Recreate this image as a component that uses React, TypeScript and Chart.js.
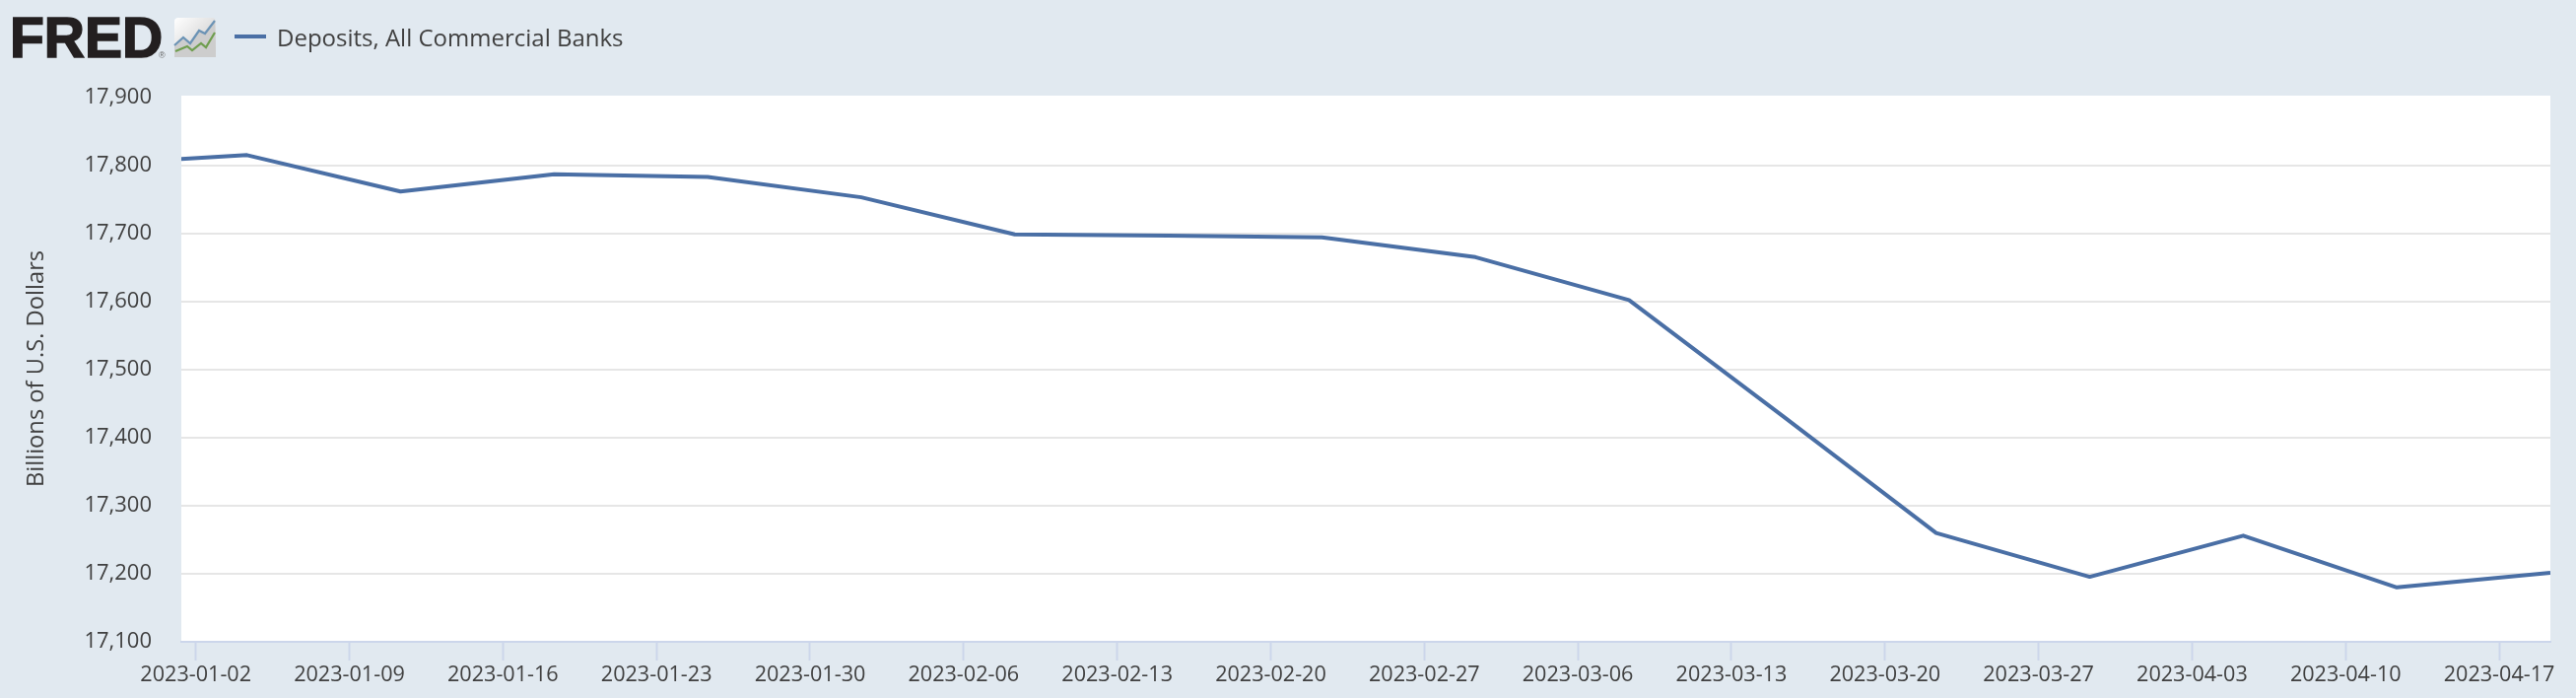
import React, { useEffect, useRef } from "react";
import { Chart, registerables } from "chart.js";

Chart.register(...registerables);

const pointDates = [
  "2022-12-28", "2023-01-04", "2023-01-11", "2023-01-18", "2023-01-25", "2023-02-01",
  "2023-02-08", "2023-02-15", "2023-02-22", "2023-03-01", "2023-03-08", "2023-03-15",
  "2023-03-22", "2023-03-29", "2023-04-05", "2023-04-12", "2023-04-19",
];
const deposits = [
  17802, 17815.5, 17762, 17787.5, 17783.5, 17753.5, 17699, 17697, 17694.5, 17665.5,
  17602.5, 17432, 17260, 17195.5, 17256, 17180, 17201.5,
];
const xTickDates = [
  "2023-01-02", "2023-01-09", "2023-01-16", "2023-01-23", "2023-01-30", "2023-02-06",
  "2023-02-13", "2023-02-20", "2023-02-27", "2023-03-06", "2023-03-13", "2023-03-20",
  "2023-03-27", "2023-04-03", "2023-04-10", "2023-04-17",
];
const yTicks = [17100, 17200, 17300, 17400, 17500, 17600, 17700, 17800, 17900];
const seriesName = "Deposits, All Commercial Banks";
const yTitle = "Billions of U.S. Dollars";

const HOUR = 3600000;
const DAY = 24 * HOUR;
const stamp = (d: string) => Date.parse(d + "T00:00:00Z");
const POINT_OFFSET = 8 * HOUR;

const BG = "#e1e9f0";
const TEXT = "#404040";
const LINE = "#4a6fa5";
const FONT = "'Open Sans', sans-serif";

const plotBackground = {
  id: "plotBackground",
  beforeDraw(chart: any) {
    const { ctx, chartArea: a } = chart;
    ctx.save();
    ctx.fillStyle = "#ffffff";
    ctx.fillRect(a.left, a.top, a.right - a.left, a.bottom - a.top);
    ctx.restore();
  },
};

export default function App() {
  const ref = useRef<HTMLCanvasElement>(null);
  useEffect(() => {
    const chart = new Chart(ref.current as HTMLCanvasElement, {
      type: "line",
      plugins: [plotBackground],
      data: {
        datasets: [
          {
            label: seriesName,
            data: pointDates.map((d, i) => ({ x: stamp(d) + POINT_OFFSET, y: deposits[i] })),
            borderColor: LINE,
            borderWidth: 4,
            tension: 0,
            pointRadius: 0,
            borderJoinStyle: "round",
            clip: 0,
          } as any,
        ],
      },
      options: {
        animation: false,
        responsive: false,
        devicePixelRatio: 1,
        layout: { padding: { top: 97, right: 26, left: 0, bottom: 0 } },
        plugins: { legend: { display: false }, tooltip: { enabled: false } },
        scales: {
          x: {
            type: "linear",
            min: stamp(xTickDates[0]) - 0.66 * DAY,
            max: stamp(pointDates[pointDates.length - 1]) + POINT_OFFSET,
            afterBuildTicks: (s: any) => {
              s.ticks = xTickDates.map((d) => ({ value: stamp(d) }));
            },
            afterFit: (s: any) => {
              s.height = 57;
            },
            grid: { drawOnChartArea: false, tickColor: "#ccd6eb", tickLength: 19, tickWidth: 2 },
            border: { color: "#ccd6eb", width: 2 },
            ticks: {
              autoSkip: false,
              maxRotation: 0,
              minRotation: 0,
              padding: 2,
              color: TEXT,
              font: { family: FONT, size: 21.6 },
              callback: (v: any) => new Date(v).toISOString().slice(0, 10),
            },
          },
          y: {
            type: "linear",
            min: yTicks[0],
            max: 17903,
            afterBuildTicks: (s: any) => {
              s.ticks = yTicks.map((value) => ({ value }));
            },
            afterFit: (s: any) => {
              s.width = 184;
            },
            grid: {
              drawTicks: false,
              lineWidth: 2,
              color: (c: any) =>
                c.tick && (c.tick.value === 17900 || c.tick.value === 17100) ? "transparent" : "#e6e6e6",
            },
            border: { display: false },
            title: {
              display: true,
              text: yTitle,
              color: TEXT,
              font: { family: FONT, size: 23.7, weight: "normal" },
              padding: { top: 23, bottom: 0 },
            },
            ticks: {
              padding: 30,
              color: TEXT,
              font: { family: FONT, size: 22 },
              callback: (v: any) => Number(v).toLocaleString("en-US"),
            },
          },
        },
      },
    } as any);
    return () => chart.destroy();
  }, []);

  return (
    <div style={{ position: "absolute", left: 0, top: 0, width: 2614, height: 708, background: BG, overflow: "hidden" }}>
      <canvas ref={ref} width={2614} height={708} style={{ display: "block", position: "absolute", left: 0, top: 0 }} />
      <div
        style={{
          position: "absolute", left: 10, top: 6, fontFamily: "'Liberation Sans', sans-serif", fontWeight: 700,
          fontSize: 57, lineHeight: "65px", color: "#231f20", WebkitTextStroke: "1.6px #231f20", letterSpacing: 0,
        }}
      >
        FRED
      </div>
      <div style={{ position: "absolute", left: 161, top: 50, fontFamily: "'Liberation Sans', sans-serif", fontSize: 9, lineHeight: "12px", color: "#666" }}>®</div>
      <svg style={{ position: "absolute", left: 176, top: 17 }} width={46} height={43} viewBox="176 17 46 43">
        <defs>
          <linearGradient id="iconBg" x1="0" y1="0" x2="1" y2="1">
            <stop offset="0" stopColor="#ffffff" />
            <stop offset="0.6" stopColor="#dcdcdc" />
            <stop offset="1" stopColor="#cfcfcf" />
          </linearGradient>
        </defs>
        <rect x={177} y={18} width={42} height={40} rx={4} fill="url(#iconBg)" />
        <path d="M177 46 L186 38 L193 44 L202 31 L208 34 L218 21 L219 58 L177 58 Z" fill="#cdcdcd" />
        <polyline points="177,46 186,38 193,44 202,31 208,34 218,21" fill="none" stroke="#6b93b5" strokeWidth={2.2} />
        <polyline points="178,52 190,47 195,51 204,44 209,48 218,33" fill="none" stroke="#6f9e4f" strokeWidth={2.2} />
      </svg>
      <div style={{ position: "absolute", left: 238, top: 35, width: 32, height: 4, background: LINE }} />
      <div style={{ position: "absolute", left: 281, top: 20, fontFamily: FONT, fontSize: 24, lineHeight: "36px", color: TEXT, whiteSpace: "nowrap" }}>
        {seriesName}
      </div>
    </div>
  );
}
